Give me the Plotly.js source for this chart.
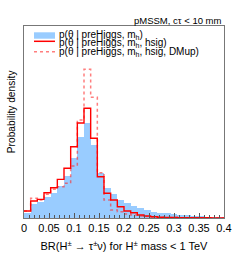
<!DOCTYPE html>
<html>
<head>
<meta charset="utf-8">
<script src="https://cdn.plot.ly/plotly-3.0.1.min.js"></script>
<style>html,body{margin:0;padding:0;background:#fff;}#chart{width:249px;height:257px;}</style>
</head>
<body>
<div id="chart"></div>
<script>
// Histogram binning: 30 bins over BR in [0, 0.4]
const xMin = 0;
const xMax = 0.4;
const nBins = 30;

// Probability density per bin
const preHiggs = [0.54, 1.56, 1.86, 2.43, 2.88, 3.65, 4.79, 6.81, 9.27, 10.83,
                  8.32, 5.10, 3.39, 2.70, 2.05, 1.74, 1.37, 1.11, 0.91, 0.68,
                  0.60, 0.54, 0.42, 0.34, 0.29, 0.23, 0.19, 0.15, 0.15, 0.11];
const hsig = [0.80, 1.94, 2.13, 2.88, 3.45, 4.41, 5.67, 8.13, 10.83, 12.51,
              9.09, 4.71, 2.82, 2.05, 1.29, 0.80, 0.60, 0.34, 0.23, 0.15,
              0.08, 0.06, 0.06, 0.03, 0.03, 0.02, 0.02, 0.02, 0.01, 0.01];
const hsigDMup = [0.80, 2.25, 2.05, 2.70, 3.27, 3.57, 3.96, 5.93, 11.17, 16.96,
                  13.76, 5.17, 2.05, 0.91, 0.72, 0.46, 0.34, 0.23, 0.17, 0.11,
                  0.08, 0.06, 0.05, 0.03, 0.03, 0.02, 0.02, 0.01, 0.01, 0.01];

const legendLabels = [
  "p(θ | preHiggs, m<sub>h</sub>)",
  "p(θ | preHiggs, m<sub>h</sub>, hsig)",
  "p(θ | preHiggs, m<sub>h</sub>, hsig, DMup)"
];
const xTitle = "BR(H<sup>±</sup> → τ<sup>±</sup>ν) for H<sup>±</sup> mass < 1 TeV";
const yTitle = "Probability density";
const topLabel = "pMSSM, cτ < 10 mm";

const binWidth = (xMax - xMin) / nBins;
const edges = Array.from({length: nBins + 1}, (_, i) => xMin + i * binWidth);
const centers = Array.from({length: nBins}, (_, i) => xMin + (i + 0.5) * binWidth);
const stepY = arr => arr.concat([arr[arr.length - 1]]);

const FONT = "Liberation Sans, Arial, Helvetica, sans-serif";
const BLUE = "#99ccff";
const RED = "#ff0000";
const REDL = "rgba(255,40,40,0.6)";

// pixel -> paper helpers (plot area: x 24..224, y 26..218)
const L = 24, R = 224, T = 26, B = 218;
const px = x => (x - L) / (R - L);
const py = y => (B - y) / (B - T);

const traces = [
  {type: "bar", x: centers, y: preHiggs, width: binWidth,
   marker: {color: BLUE, line: {width: 0}}, hoverinfo: "skip", showlegend: false},
  {type: "scatter", mode: "lines", x: edges, y: stepY(hsigDMup),
   line: {shape: "hv", color: REDL, width: 1.5, dash: "dot"}, showlegend: false},
  {type: "scatter", mode: "lines", x: edges, y: stepY(hsig),
   line: {shape: "hv", color: RED, width: 1.4}, showlegend: false}
];

const rows = [35, 43, 52];
const layout = {
  width: 249, height: 257,
  margin: {l: L, r: 249 - R, t: T, b: 257 - B},
  paper_bgcolor: "#fff", plot_bgcolor: "#fff",
  showlegend: false,
  bargap: 0,
  font: {family: FONT, color: "#000", size: 11},
  xaxis: {
    range: [xMin, xMax], tick0: 0, dtick: 0.05,
    ticks: "inside", ticklen: 5, tickwidth: 1, tickcolor: "#555",
    minor: {dtick: 0.01, ticks: "inside", ticklen: 3, tickcolor: "#555", tickwidth: 1},
    showline: true, linecolor: "#777", linewidth: 1, mirror: true,
    showgrid: false, zeroline: false,
    tickfont: {size: 11, family: FONT},
    title: {text: xTitle, font: {size: 11, family: FONT}, standoff: 9}
  },
  yaxis: {
    range: [0, 21.9],
    showticklabels: false, ticks: "",
    showline: true, linecolor: "#777", linewidth: 1, mirror: true,
    showgrid: false, zeroline: false,
    title: {text: ""}
  },
  shapes: [
    {type: "rect", xref: "paper", yref: "paper", x0: px(34), x1: px(55), y0: py(38.7), y1: py(32.3),
     fillcolor: BLUE, line: {width: 0}},
    {type: "line", xref: "paper", yref: "paper", x0: px(34), x1: px(55), y0: py(41.3), y1: py(41.3),
     line: {color: RED, width: 1.5}},
    {type: "line", xref: "paper", yref: "paper", x0: px(34), x1: px(55), y0: py(51.7), y1: py(51.7),
     line: {color: REDL, width: 1.5, dash: "dot"}}
  ],
  annotations: [
    {xref: "paper", yref: "paper", x: px(224), y: py(20.7), xanchor: "right", yanchor: "middle",
     text: topLabel, showarrow: false, font: {size: 9.5, family: FONT}},
    {xref: "paper", yref: "paper", x: px(11.5), y: py(111.7), xanchor: "center", yanchor: "middle",
     text: yTitle, textangle: -90, showarrow: false, font: {size: 10.2, family: FONT}}
  ].concat(legendLabels.map((t, i) => ({
     xref: "paper", yref: "paper", x: px(58), y: py(rows[i]), xanchor: "left", yanchor: "middle",
     text: t, showarrow: false, font: {size: 10, family: FONT}, borderpad: 0
  })))
};

Plotly.newPlot("chart", traces, layout, {staticPlot: true, displayModeBar: false});
</script>
</body>
</html>
